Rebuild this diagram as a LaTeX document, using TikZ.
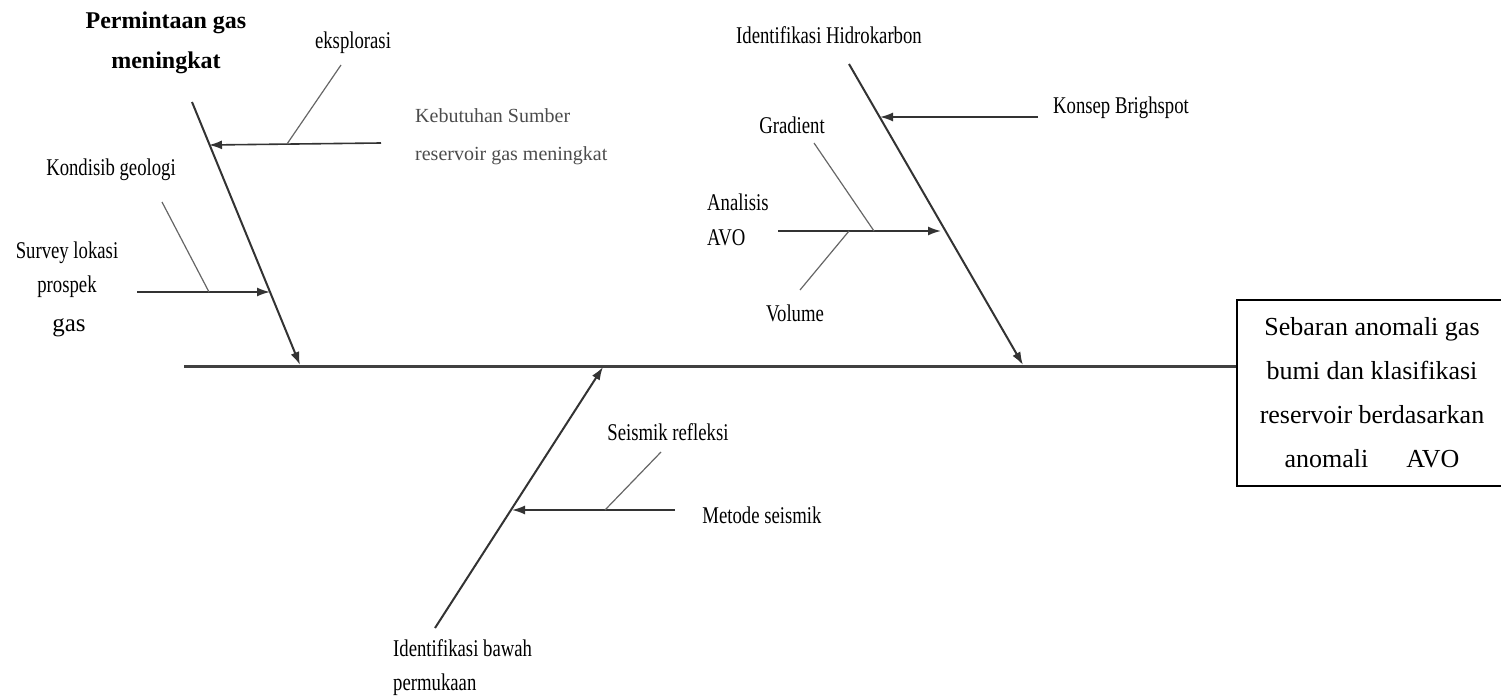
\documentclass[tikz,border=0pt]{standalone}
\usepackage{fontspec}
\setmainfont{Liberation Serif}[FakeStretch=0.78]
\newfontfamily\boxfont{Liberation Serif}
\usetikzlibrary{arrows.meta}

\begin{document}
\begin{tikzpicture}[x=1pt, y=-1pt, >={Latex[length=13pt,width=9pt]},
  lbl/.style={inner sep=0pt, font=\fontsize{24}{34}\selectfont},
  bone/.style={line width=2pt, black!80},
  sub/.style={line width=1.6pt, black!80},
  twig/.style={line width=1.2pt, black!60}]
\useasboundingbox (0,0) rectangle (1501,698);

% Kotak akibat
\node[draw, line width=2pt, minimum width=270, minimum height=186, inner sep=0pt,
  align=center, font=\boxfont\fontsize{26}{44}\selectfont] (effect) at (1372,393)
  {Sebaran anomali gas\\bumi dan klasifikasi\\reservoir berdasarkan\\anomali\hspace{38pt}AVO};

% Tulang utama
\coordinate (spineL) at (184,366);
\draw[line width=3pt, black!75] (spineL) -- (spineL -| effect.west);

% Label
\node[inner sep=0pt, align=center, font=\boxfont\bfseries\fontsize{24}{40}\selectfont] (permintaan) at (166,43) {Permintaan gas\\meningkat};
\node[lbl] (eksplorasi) at (353,43) {eksplorasi};
\node[inner sep=0pt, align=left, anchor=west, text=black!70, font=\boxfont\fontsize{20}{38}\selectfont] (kebutuhan) at (415,137) {Kebutuhan Sumber\\reservoir gas meningkat};
\node[lbl] (kondisi) at (111,170) {Kondisib geologi};
\node[lbl, align=center] (survey) at (67,270) {Survey lokasi\\prospek};
\node[inner sep=0pt, font=\boxfont\fontsize{25}{30}\selectfont] (gas) at (69,328) {gas};

\node[lbl] (hidro) at (829,35) {Identifikasi Hidrokarbon};
\node[lbl] (konsep) at (1121,108) {Konsep Brighspot};
\node[lbl] (gradient) at (792,125) {Gradient};
\node[lbl, align=left, anchor=west, font=\fontsize{24}{35}\selectfont] (analisis) at (707,220) {Analisis\\AVO};
\node[lbl] (volume) at (795,313) {Volume};

\node[lbl] (seismik) at (668,432) {Seismik refleksi};
\node[lbl] (metode) at (762,515) {Metode seismik};
\node[lbl, align=left, anchor=west] (bawah) at (393,668) {Identifikasi bawah\\permukaan};

% Ujung cabang
\coordinate (b1s) at (192,102);  \coordinate (b1e) at (300,365);
\coordinate (b2s) at (849,64);   \coordinate (b2e) at (1023,365);
\coordinate (b3s) at (435,628);  \coordinate (b3e) at (603,367);

\coordinate (kebS) at (381,143);  \coordinate (kebE) at (209,145);
\coordinate (eksS) at (341,65);   \coordinate (eksE) at (287,144);
\coordinate (surS) at (137,292);  \coordinate (surE) at (270,292);
\coordinate (konS) at (162,202);  \coordinate (konE) at (209,292);

\coordinate (kspS) at (1038,117); \coordinate (kspE) at (880,117);
\coordinate (avoS) at (778,231);  \coordinate (avoE) at (941,231);
\coordinate (graS) at (814,143);  \coordinate (graE) at (874,231);
\coordinate (volS) at (800,290);  \coordinate (volE) at (849,231);

\coordinate (metS) at (675,510);  \coordinate (metE) at (512,510);
\coordinate (seiS) at (661,452);  \coordinate (seiE) at (605,510);

% Tulang
\draw[bone, ->] (b1s) -- (b1e);
\draw[bone, ->] (b2s) -- (b2e);
\draw[bone, ->] (b3s) -- (b3e);

% Cabang
\draw[sub, ->] (kebS) -- (kebE);
\draw[twig] (eksS) -- (eksE);
\draw[sub, ->] (surS) -- (surE);
\draw[twig] (konS) -- (konE);

\draw[sub, ->] (kspS) -- (kspE);
\draw[sub, ->] (avoS) -- (avoE);
\draw[twig] (graS) -- (graE);
\draw[twig] (volS) -- (volE);

\draw[sub, ->] (metS) -- (metE);
\draw[twig] (seiS) -- (seiE);

\end{tikzpicture}
\end{document}
